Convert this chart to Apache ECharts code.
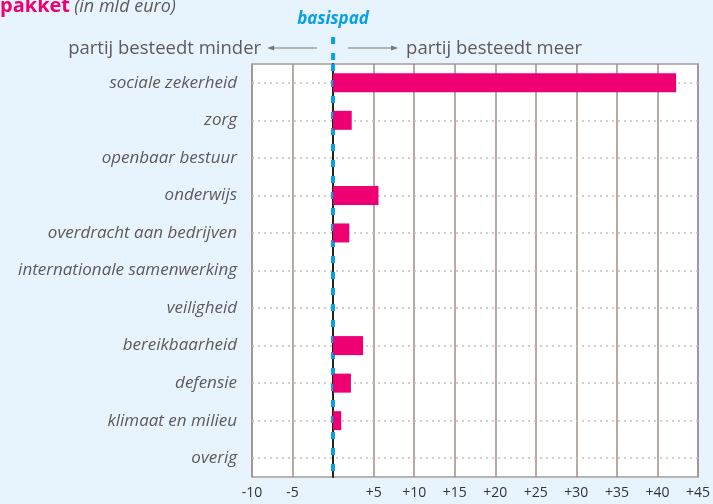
<!DOCTYPE html>
<html>
<head>
<meta charset="utf-8">
<script src="https://cdn.jsdelivr.net/npm/echarts@6/dist/echarts.min.js"></script>
<style>
  html, body { margin: 0; padding: 0; background: #e8f4fd; }
  #wrap { position: relative; width: 713px; height: 504px; overflow: hidden; }
  #chart { width: 713px; height: 504px; }
  .note { position: absolute; white-space: nowrap; font-family: 'Open Sans', sans-serif; line-height: 24px; pointer-events: none; }
  #overlay { position: absolute; left: 0; top: 0; pointer-events: none; }
</style>
</head>
<body>
<div id="wrap">
  <div id="chart"></div>
  <div class="note" id="title" style="left:0; top:-7px;">
    <span style="color:#ee0072; font-weight:bold; font-size:20px;">pakket</span>
    <span style="color:#5f5959; font-style:italic; font-size:18px;">(in mld euro)</span>
  </div>
  <div class="note" id="basispad" style="top:6px; width:100px; text-align:center; color:#0aa0e8; font-weight:bold; font-style:italic; font-size:17px;">basispad</div>
  <div class="note" id="minder" style="top:35px; text-align:right; color:#5f5959; font-size:18.5px;">partij besteedt minder</div>
  <div class="note" id="meer" style="top:35px; color:#5f5959; font-size:18.5px;">partij besteedt meer</div>
  <svg id="overlay" width="713" height="70"></svg>
</div>
<script>
// categories, top to bottom
const categories = [
  'sociale zekerheid', 'zorg', 'openbaar bestuur', 'onderwijs',
  'overdracht aan bedrijven', 'internationale samenwerking', 'veiligheid',
  'bereikbaarheid', 'defensie', 'klimaat en milieu', 'overig'
]
// extra spending vs basispad (mld euro)
const values = [42.3, 2.3, 0, 5.6, 2.0, 0, 0, 3.7, 2.2, 1.0, 0]
const xTicks = { min: -10, max: 45, step: 5 }

const pink = '#ee0072'
const blue = '#0aa0e8'
const textGrey = '#5f5959'

const W = 713, H = 504
const gridBox = { left: 252, right: 14, top: 64, bottom: 27 }

const chart = echarts.init(document.getElementById('chart'))

const option = {
  backgroundColor: '#e8f4fd',
  animation: false,
  grid: {
    ...gridBox,
    show: true,
    backgroundColor: '#ffffff',
    borderColor: '#bab3b3',
    borderWidth: 2
  },
  xAxis: {
    type: 'value',
    min: xTicks.min,
    max: xTicks.max,
    interval: xTicks.step,
    axisLine: { show: false },
    axisTick: { show: false },
    axisLabel: {
      color: '#333',
      fontFamily: 'Open Sans',
      fontSize: 14,
      margin: 9,
      formatter: v => (v === 0 ? '' : v > 0 ? '+' + v : String(v))
    },
    splitLine: { show: true, lineStyle: { color: '#a08e8a', width: 1.5, type: 'solid' } }
  },
  yAxis: {
    type: 'category',
    inverse: true,
    data: categories,
    axisLine: { show: true, lineStyle: { color: '#222', width: 2 } },
    axisTick: { show: false },
    splitLine: { show: false },
    axisLabel: {
      color: textGrey,
      fontFamily: 'Open Sans',
      fontStyle: 'italic',
      fontSize: 17,
      margin: 15
    }
  },
  series: [
    {
      type: 'bar',
      data: values,
      barWidth: 19,
      z: 3,
      itemStyle: { color: pink },
      // dotted row guides at each category centre, and the blue basispad at 0
      markLine: {
        silent: true,
        symbol: 'none',
        z: 1,
        label: { show: false },
        lineStyle: { color: '#c9bdbd', type: [2, 4], width: 1.5 },
        data: categories.map(c => ({ yAxis: c })).concat([
          { xAxis: 0, lineStyle: { color: blue, type: [7, 9], width: 4 } }
        ])
      }
    }
  ]
}

chart.setOption(option)

// headings above the plot, placed relative to x = 0
const x0 = chart.convertToPixel({ xAxisIndex: 0 }, 0)
document.getElementById('basispad').style.left = (x0 - 50) + 'px'
document.getElementById('minder').style.right = (W - (x0 - 72)) + 'px'
document.getElementById('meer').style.left = (x0 + 73) + 'px'

const svg = document.getElementById('overlay')
svg.innerHTML =
  // arrows
  `<line x1="${x0 - 16}" y1="48" x2="${x0 - 62}" y2="48" stroke="#777" stroke-width="1"/>` +
  `<polygon points="${x0 - 66},48 ${x0 - 59},45.5 ${x0 - 59},50.5" fill="#777"/>` +
  `<line x1="${x0 + 15}" y1="48" x2="${x0 + 61}" y2="48" stroke="#777" stroke-width="1"/>` +
  `<polygon points="${x0 + 65},48 ${x0 + 58},45.5 ${x0 + 58},50.5" fill="#777"/>` +
  // basispad dashes continuing above the plot
  `<line x1="${x0}" y1="37" x2="${x0}" y2="64" stroke="${blue}" stroke-width="4" stroke-dasharray="7 9"/>`

window.addEventListener('resize', () => chart.resize())
</script>
</body>
</html>
